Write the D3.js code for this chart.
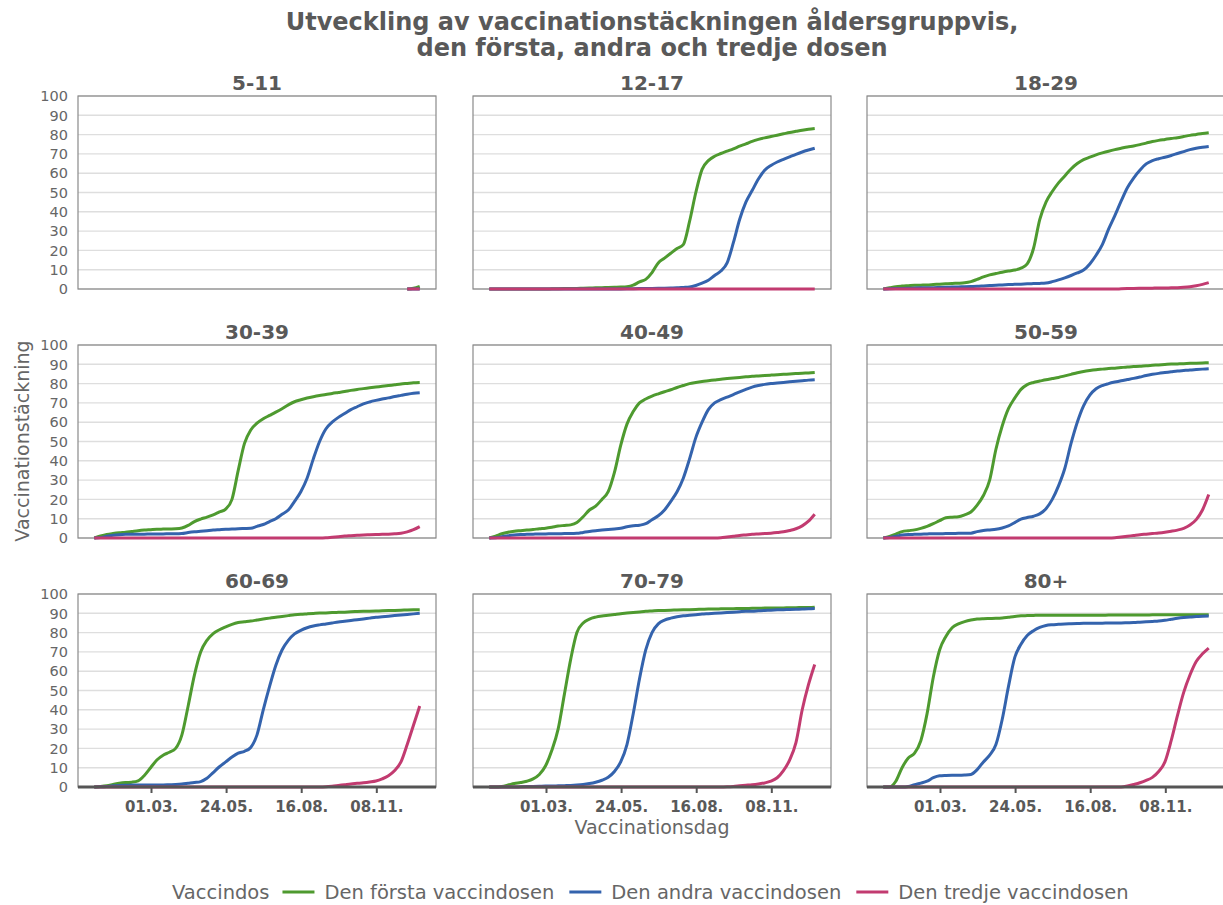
<!DOCTYPE html>
<meta charset="utf-8">
<script src="https://d3js.org/d3.v7.min.js"></script>
<style>
  body { margin: 0; background: #fff; }
  text { font-family: "DejaVu Sans", sans-serif; }
</style>
<div id="chart"></div>
<script>

// age groups (one panel each)
var ages = ["5-11", "12-17", "18-29", "30-39", "40-49", "50-59", "60-69", "70-79", "80+"];

// weekly readings, 27.12.2020 ... 26.12.2021 (53 weeks), coverage in %
var dose1 = [
  [null,null,null,null,null,null,null,null,null,null,null,null,null,null,null,null,null,null,null,null,null,null,null,null,null,null,null,null,null,null,null,null,null,null,null,null,null,null,null,null,null,null,null,null,null,null,null,null,null,null,0,0.4,1.4],
  [0,0,0,0,0,0,0,0,0,0,0.1,0.15,0.2,0.25,0.3,0.4,0.5,0.6,0.7,0.8,0.9,1,1.2,2,3.7,5,8.5,13.5,16,18.5,21,23,35,50,62,66.5,68.8,70.2,71.4,72.6,74,75.2,76.5,77.5,78.3,79,79.7,80.4,81.1,81.7,82.3,82.8,83.2],
  [0,0.6,1.2,1.5,1.7,1.9,2,2.1,2.3,2.5,2.7,2.9,3,3.2,3.8,5,6.3,7.3,8,8.7,9.3,9.8,10.8,13,21,36,45,50.5,55,58.6,62.2,65,67,68.3,69.5,70.5,71.4,72.2,72.9,73.6,74.1,74.8,75.6,76.4,77,77.5,78,78.4,79,79.6,80.1,80.6,81],
  [0,1,1.8,2.3,2.7,3,3.4,3.8,4.1,4.3,4.5,4.6,4.7,4.8,5.2,6.5,8.5,9.8,10.8,12,13.5,15,20,35,49,56,59.5,61.8,63.5,65.2,67,69,70.6,71.6,72.5,73.2,73.8,74.3,74.9,75.4,75.9,76.5,77,77.4,77.8,78.2,78.6,79,79.4,79.8,80.1,80.4,80.6],
  [0,1,2.2,3,3.5,3.8,4.1,4.4,4.8,5.1,5.6,6.2,6.5,6.8,8,11,14.5,16.5,20,24,34,48,59,65.5,70,72,73.5,74.7,75.8,76.8,78,79,80,80.6,81.1,81.5,81.9,82.3,82.6,82.9,83.2,83.5,83.8,84,84.2,84.4,84.6,84.8,85,85.2,85.4,85.5,85.7],
  [0,0.8,2,3.3,3.8,4.2,5,6,7.4,9,10.5,10.8,11,12,13.5,17,22,30,46,58,67,72.5,77,79.5,80.6,81.3,82,82.6,83.2,84,84.8,85.6,86.3,86.8,87.2,87.5,87.8,88,88.3,88.6,88.8,89,89.3,89.5,89.7,89.9,90.1,90.2,90.3,90.5,90.6,90.7,90.8],
  [0,0.3,0.7,1.3,1.9,2.3,2.5,3.2,6,10,14,16.5,18,20,27,42,58,70,76,79.5,81.5,83,84.3,85.2,85.6,86,86.5,87,87.5,88,88.4,88.8,89.2,89.5,89.7,89.9,90.1,90.2,90.4,90.5,90.6,90.8,90.9,91,91.1,91.2,91.3,91.4,91.5,91.6,91.7,91.8,91.9],
  [0,0,0.3,1,1.8,2.3,3,4.2,6.5,11,19,30,48,66,80,85,87,88,88.6,89,89.4,89.8,90.1,90.4,90.7,91,91.2,91.4,91.5,91.6,91.7,91.8,91.9,92,92.1,92.2,92.2,92.3,92.4,92.4,92.5,92.5,92.6,92.6,92.7,92.7,92.8,92.8,92.9,92.9,93,93,93.1],
  [0,0,3,10,15,17.5,24,38,57,71,78,82.5,84.5,85.7,86.5,87,87.2,87.3,87.4,87.6,88,88.4,88.7,88.8,88.9,89,89,89,89,89,89,89,89,89,89,89,89.1,89.1,89.1,89.1,89.1,89.1,89.1,89.2,89.2,89.2,89.2,89.2,89.2,89.3,89.3,89.3,89.3]
];

var dose2 = [
  [null,null,null,null,null,null,null,null,null,null,null,null,null,null,null,null,null,null,null,null,null,null,null,null,null,null,null,null,null,null,null,null,null,null,null,null,null,null,null,null,null,null,null,null,null,null,null,null,null,null,0,0,0],
  [0,0,0,0,0,0,0,0,0,0,0,0,0,0,0,0,0,0,0,0,0,0.05,0.1,0.15,0.2,0.25,0.3,0.35,0.4,0.5,0.6,0.8,1,1.8,3,4.5,7,9.3,13.5,24,36,45,51,57,61.5,64,65.8,67.2,68.5,69.8,71,72,72.9],
  [0,0.1,0.2,0.3,0.4,0.5,0.6,0.7,0.7,0.8,0.9,1,1.1,1.2,1.3,1.4,1.6,1.8,2,2.1,2.3,2.4,2.5,2.7,2.8,2.9,3.1,3.8,4.7,5.8,7,8.3,9.8,13,17.5,23,31,38,45.5,52.5,57.5,61.5,64.8,66.5,67.5,68.3,69.2,70.2,71.2,72.2,72.9,73.4,73.8],
  [0,0.2,0.9,1.4,1.7,1.9,2,2,2,2.1,2.1,2.1,2.2,2.2,2.3,2.8,3.2,3.5,3.8,4.1,4.3,4.5,4.6,4.8,4.9,5,6,7,8.5,10,12.3,14.5,19,24,31,41,50,56.5,60,62.5,64.5,66.5,68,69.5,70.5,71.3,72,72.6,73.3,73.9,74.5,75,75.3],
  [0,0.1,0.6,1.2,1.6,1.8,1.9,2,2.1,2.1,2.2,2.2,2.3,2.3,2.4,2.9,3.4,3.8,4.1,4.4,4.7,5,5.8,6.3,6.6,7.4,9.5,11.5,14.5,19,24,31,41,52,60,66.5,70,71.7,73,74.3,75.7,77,78.2,79,79.6,80,80.3,80.6,80.9,81.2,81.5,81.8,82],
  [0,0.3,0.9,1.5,1.8,1.9,2,2.1,2.2,2.2,2.3,2.3,2.4,2.4,2.5,3.3,3.9,4.2,4.5,5.2,6.3,8,9.8,10.6,11.3,12.5,15.2,20,27,36,49,60,68.5,74,77.3,79,80,80.8,81.5,82.1,82.7,83.4,84.2,84.8,85.3,85.7,86.1,86.5,86.8,87.1,87.3,87.5,87.7],
  [0,0.1,0.3,0.6,0.8,0.9,1,1,1,1.1,1.1,1.1,1.2,1.3,1.5,1.9,2.3,2.8,4.5,7.5,10.5,13,15.5,17.5,18.5,20.5,27,40,52,63,71,76,79.3,81.2,82.5,83.4,84,84.5,85,85.5,85.9,86.3,86.7,87.1,87.5,87.9,88.2,88.5,88.8,89.1,89.4,89.7,90],
  [0,0,0,0,0,0.1,0.2,0.3,0.4,0.5,0.5,0.6,0.7,0.8,1,1.3,1.8,2.5,3.5,5,8,13,22,38,56,71,80,84.5,86.5,87.5,88.2,88.7,89,89.3,89.6,89.8,90,90.2,90.4,90.6,90.8,91,91.1,91.3,91.5,91.6,91.8,91.9,92,92.1,92.2,92.3,92.5],
  [0,0,0,0,0.3,1.2,2,3,4.8,5.8,6,6.1,6.1,6.2,6.5,9,13,16.5,22,35,52,67,74,78.5,81,82.7,83.7,84.1,84.3,84.5,84.6,84.7,84.8,84.8,84.9,84.9,85,85,85,85.1,85.2,85.4,85.6,85.8,86,86.4,86.9,87.4,87.8,88.1,88.3,88.5,88.6]
];

var dose3 = [
  [null,null,null,null,null,null,null,null,null,null,null,null,null,null,null,null,null,null,null,null,null,null,null,null,null,null,null,null,null,null,null,null,null,null,null,null,null,null,null,null,null,null,null,null,null,null,null,null,null,null,0,0,0],
  [0,0,0,0,0,0,0,0,0,0,0,0,0,0,0,0,0,0,0,0,0,0,0,0,0,0,0,0,0,0,0,0,0,0,0,0,0,0,0,0,0,0,0,0,0,0,0,0,0,0,0,0,0],
  [0,0,0,0,0,0,0,0,0,0,0,0,0,0,0,0,0,0,0,0,0,0,0,0,0,0,0,0,0,0,0,0,0,0,0,0,0,0,0.1,0.2,0.3,0.35,0.4,0.45,0.5,0.55,0.6,0.7,0.9,1.2,1.7,2.4,3.3],
  [0,0,0,0,0,0,0,0,0,0,0,0,0,0,0,0,0,0,0,0,0,0,0,0,0,0,0,0,0,0,0,0,0,0,0,0,0,0.1,0.4,0.7,1,1.2,1.4,1.6,1.7,1.8,1.9,2,2.2,2.5,3.2,4.3,5.9],
  [0,0,0,0,0,0,0,0,0,0,0,0,0,0,0,0,0,0,0,0,0,0,0,0,0,0,0,0,0,0,0,0,0,0,0,0,0,0.1,0.5,0.9,1.3,1.6,1.9,2.1,2.3,2.5,2.8,3.2,3.9,4.8,6.3,8.7,12.3],
  [0,0,0,0,0,0,0,0,0,0,0,0,0,0,0,0,0,0,0,0,0,0,0,0,0,0,0,0,0,0,0,0,0,0,0,0,0,0.1,0.5,0.9,1.3,1.7,2,2.3,2.6,3,3.5,4.1,5,6.7,9.5,14.5,22.5],
  [0,0,0,0,0,0,0,0,0,0,0,0,0,0,0,0,0,0,0,0,0,0,0,0,0,0,0,0,0,0,0,0,0,0,0,0,0,0.1,0.4,0.8,1.2,1.6,1.9,2.2,2.6,3.1,4.2,5.8,8.5,13,22,32,42],
  [0,0,0,0,0,0,0,0,0,0,0,0,0,0,0,0,0,0,0,0,0,0,0,0,0,0,0,0,0,0,0,0,0,0,0,0,0,0,0.1,0.3,0.6,0.9,1.2,1.6,2.1,3,4.8,8.5,14,23,40,53,63.5],
  [0,0,0,0,0,0,0,0,0,0,0,0,0,0,0,0,0,0,0,0,0,0,0,0,0,0,0,0,0,0,0,0,0,0,0,0,0,0,0,0.5,1.3,2.2,3.4,5,8,13,24,37,49,58,65,69,72]
];

var doseNames = ["Den första vaccindosen", "Den andra vaccindosen", "Den tredje vaccindosen"];
var doseColors = ["#4e9a2f", "#3463ad", "#c23b70"];
var yTicks = [0, 10, 20, 30, 40, 50, 60, 70, 80, 90, 100];
var xTicks = ["2021-03-01", "2021-05-24", "2021-08-16", "2021-11-08"];

// week dates
var start = new Date(2020, 11, 27);
var weeks = d3.range(53).map(function(i){ return d3.timeDay.offset(start, 7 * i) });

var width = 1223, height = 905;
var svg = d3.select("#chart").append("svg")
    .attr("width", width)
    .attr("height", height);

// panel grid
var pw = 358, ph = 193;
var lefts = [78, 473, 867];
var tops = [96, 345, 594];

var ext = d3.extent(weeks);
var pad = (ext[1] - ext[0]) * 0.05;
var x = d3.scaleTime()
    .domain([new Date(+ext[0] - pad), new Date(+ext[1] + pad)])
    .range([0, pw]);
var y = d3.scaleLinear().domain([0, 100]).range([ph, 0]);

var line = d3.line()
    .defined(function(d){ return d[1] != null })
    .x(function(d){ return x(d[0]) })
    .y(function(d){ return y(d[1]) })
    .curve(d3.curveMonotoneX);

var fmt = d3.timeFormat("%d.%m.");
var parse = d3.timeParse("%Y-%m-%d");

ages.forEach(function(age, i) {
  var col = i % 3, row = Math.floor(i / 3);
  var g = svg.append("g").attr("transform", "translate(" + lefts[col] + "," + tops[row] + ")");

  g.append("rect").attr("width", pw).attr("height", ph).attr("fill", "#fff");

  // gridlines
  g.selectAll(".grid").data(yTicks).enter().append("line")
      .attr("x1", 0).attr("x2", pw)
      .attr("y1", function(d){ return y(d) }).attr("y2", function(d){ return y(d) })
      .attr("stroke", "#dedede").attr("stroke-width", 1.4);

  g.append("rect").attr("width", pw).attr("height", ph)
      .attr("fill", "none").attr("stroke", "#8a8a8a").attr("stroke-width", 1.2);

  // panel title
  g.append("text")
      .attr("x", pw / 2).attr("y", -6)
      .attr("text-anchor", "middle")
      .style("font-size", "20px").style("font-weight", "bold")
      .style("fill", "#595959")
      .text(age);

  // lines
  [dose1, dose2, dose3].forEach(function(dose, j) {
    var pts = weeks.map(function(w, k){ return [w, dose[i][k]] });
    g.append("path")
        .attr("d", line(pts))
        .attr("fill", "none")
        .attr("stroke", doseColors[j])
        .attr("stroke-width", 3)
        .attr("stroke-linejoin", "round");
  });

  // y axis on left column
  if (col == 0) {
    g.selectAll(".ylab").data(yTicks).enter().append("text")
        .attr("x", -10).attr("y", function(d){ return y(d) })
        .attr("dy", "0.36em")
        .attr("text-anchor", "end")
        .style("font-size", "14.5px").style("fill", "#666")
        .text(function(d){ return d });
  }

  // x axis on bottom row
  if (row == 2) {
    g.selectAll(".xt").data(xTicks).enter().append("line")
        .attr("x1", function(d){ return x(parse(d)) }).attr("x2", function(d){ return x(parse(d)) })
        .attr("y1", ph).attr("y2", ph + 6)
        .attr("stroke", "#555").attr("stroke-width", 2);
    g.append("line")
        .attr("x1", 0).attr("x2", pw).attr("y1", ph).attr("y2", ph)
        .attr("stroke", "#555").attr("stroke-width", 3);
    g.selectAll(".xlab").data(xTicks).enter().append("text")
        .attr("x", function(d){ return x(parse(d)) }).attr("y", ph + 25)
        .attr("text-anchor", "middle")
        .style("font-size", "15px").style("font-weight", "bold").style("fill", "#595959")
        .text(function(d){ return fmt(parse(d)) });
  }
});

// title
svg.append("text")
    .attr("x", 652).attr("y", 30)
    .attr("text-anchor", "middle")
    .style("font-size", "24px").style("font-weight", "bold").style("fill", "#595959")
    .text("Utveckling av vaccinationstäckningen åldersgruppvis,");
svg.append("text")
    .attr("x", 652).attr("y", 56)
    .attr("text-anchor", "middle")
    .style("font-size", "24px").style("font-weight", "bold").style("fill", "#595959")
    .text("den första, andra och tredje dosen");

// axis titles
svg.append("text")
    .attr("x", 652).attr("y", 834)
    .attr("text-anchor", "middle")
    .style("font-size", "19px").style("fill", "#666")
    .text("Vaccinationsdag");
svg.append("text")
    .attr("transform", "translate(29,441) rotate(-90)")
    .attr("text-anchor", "middle")
    .style("font-size", "19px").style("fill", "#666")
    .text("Vaccinationstäckning");

// legend
var leg = svg.append("g").attr("transform", "translate(172,892)");
var lx = 0;
var t0 = leg.append("text").attr("x", lx).attr("dy", "0.35em")
    .style("font-size", "19.5px").style("fill", "#666")
    .text("Vaccindos");
lx += t0.node().getComputedTextLength() + 13;
doseNames.forEach(function(name, j) {
  leg.append("line")
      .attr("x1", lx).attr("x2", lx + 32).attr("y1", 0).attr("y2", 0)
      .attr("stroke", doseColors[j]).attr("stroke-width", 3);
  lx += 42;
  var t = leg.append("text").attr("x", lx).attr("dy", "0.35em")
      .style("font-size", "19.5px").style("fill", "#666")
      .text(name);
  lx += t.node().getComputedTextLength() + 15;
});

</script>
